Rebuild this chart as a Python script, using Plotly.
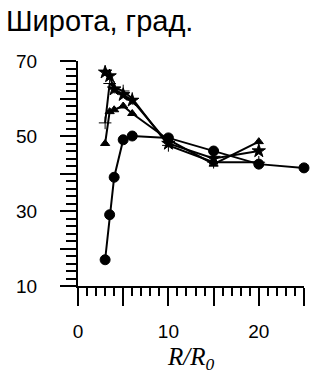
import plotly.graph_objects as go

# Data
x_circle = [3, 3.5, 4, 5, 6, 10, 15, 20, 25]
y_circle = [17, 29, 39, 49, 50, 49.5, 46, 42.5, 41.5]

x_star = [3, 3.5, 4, 5, 6, 10, 15, 20]
y_star = [67, 66, 62.5, 61, 59.5, 48, 44, 46]

x_plus = [3, 3.5, 4, 5, 6, 10, 15, 20]
y_plus = [53.5, 64, 63, 62, 60, 47.5, 43, 43]

x_tri = [3, 3.5, 4, 5, 6, 10, 15, 20]
y_tri = [48, 56.5, 57, 58, 56, 49, 42.5, 48.5]

x_tickvals = [0, 5, 10, 15, 20, 25]
x_ticktext = ["0", "", "10", "", "20", ""]
y_tickvals = [10, 20, 30, 40, 50, 60, 70]
y_ticktext = ["10", "", "30", "", "50", "", "70"]

fig = go.Figure()

def add(xs, ys, symbol, size):
    fig.add_trace(go.Scatter(
        x=xs, y=ys, mode="lines+markers",
        line=dict(color="black", width=2),
        marker=dict(symbol=symbol, size=size, color="black",
                    line=dict(color="black", width=1)),
        cliponaxis=False, showlegend=False))

add(x_tri, y_tri, "triangle-up", 8)
add(x_plus, y_plus, "cross-thin-open", 9)
add(x_star, y_star, "star", 10)
add(x_circle, y_circle, "circle", 10)

fig.update_layout(
    width=322, height=378,
    margin=dict(l=78, r=18, t=61, b=92, autoexpand=False),
    paper_bgcolor="white", plot_bgcolor="white",
    font=dict(family="Liberation Sans, Arial, sans-serif", color="black", size=19),
    xaxis=dict(
        range=[0, 25], showgrid=False, zeroline=False, automargin=False,
        showline=True, linecolor="black", linewidth=2,
        ticks="outside", ticklen=18, tickwidth=2, tickcolor="black",
        tickvals=x_tickvals, ticktext=x_ticktext,
        ticklabelstandoff=9,
        minor=dict(dtick=1, ticks="outside", ticklen=8, tickwidth=2, tickcolor="black"),
    ),
    yaxis=dict(
        range=[10, 70], showgrid=False, zeroline=False, automargin=False,
        showline=True, linecolor="black", linewidth=2,
        ticks="outside", ticklen=16, tickwidth=2, tickcolor="black",
        tickvals=y_tickvals, ticktext=y_ticktext,
        ticklabelstandoff=19,
        minor=dict(dtick=2, ticks="outside", ticklen=10, tickwidth=2, tickcolor="black"),
    ),
    annotations=[
        dict(text="Широта, град.", xref="paper", yref="paper",
             x=-74/226, y=1 + 58/225, xanchor="left", yanchor="top",
             showarrow=False,
             font=dict(family="Liberation Sans, Arial, sans-serif", size=29, color="black")),
        dict(text="<i>R/R</i><sub><i>0</i></sub>", xref="paper", yref="paper",
             x=0.5, y=-72/225, xanchor="center", yanchor="middle",
             showarrow=False,
             font=dict(family="Liberation Serif, Times New Roman, serif", size=25, color="black")),
    ],
)

fig.write_html("out.html",
               config={"displayModeBar": False},
               post_script="document.body.style.margin='0';document.body.style.padding='0';")
